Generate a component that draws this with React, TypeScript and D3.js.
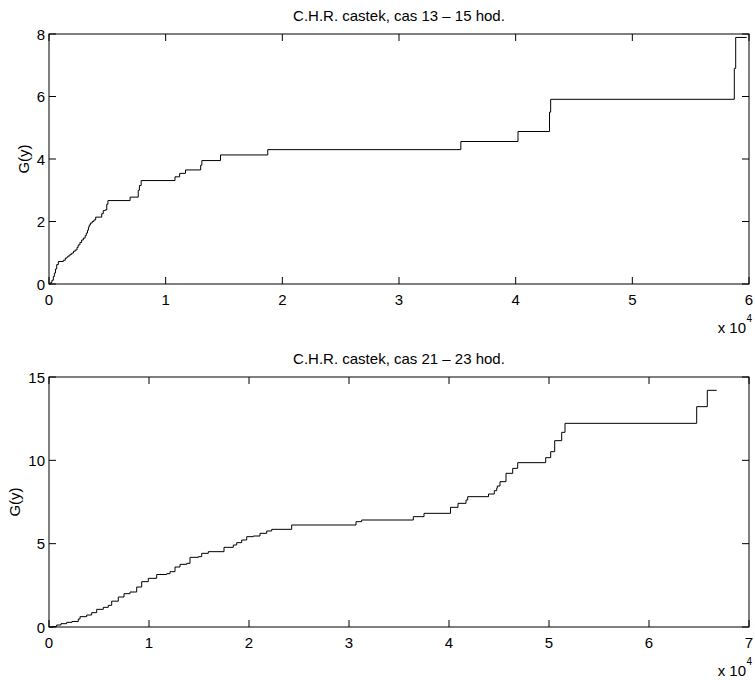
import React from "react";
import * as d3 from "d3";

// ---- data (x in raw units, y = G(y)) ----
const topX = [0, 150, 250, 370, 460, 560, 660, 800, 1230, 1400, 1550, 1650, 1800, 1950, 2100, 2250, 2400, 2500, 2650, 2800, 2950, 3100, 3200, 3300, 3380, 3450, 3550, 3700, 3850, 4000, 4520, 4650, 4800, 4950, 5050, 6950, 7650, 7750, 7900, 10800, 11200, 11700, 13000, 13100, 14700, 18750, 35300, 40200, 42900, 43000, 58740, 58860, 59800];
const topY = [0, 0.05, 0.12, 0.24, 0.35, 0.48, 0.62, 0.72, 0.76, 0.83, 0.87, 0.9, 0.95, 0.99, 1.05, 1.09, 1.17, 1.25, 1.33, 1.41, 1.47, 1.55, 1.63, 1.72, 1.82, 1.89, 1.95, 2.0, 2.05, 2.14, 2.25, 2.35, 2.37, 2.55, 2.67, 2.78, 3.0, 3.15, 3.31, 3.43, 3.54, 3.65, 3.8, 3.95, 4.13, 4.3, 4.56, 4.88, 5.5, 5.91, 6.9, 7.89, 7.89];

const botX = [0, 400, 770, 1200, 1770, 2300, 2930, 3100, 3770, 4270, 4770, 5430, 5930, 6270, 6930, 7500, 8100, 8770, 9270, 9930, 10770, 11770, 12100, 12600, 13100, 13770, 14100, 14930, 15270, 15930, 17500, 18430, 18770, 19270, 19770, 20430, 21100, 21770, 22270, 24270, 30700, 31270, 36430, 37500, 40150, 40900, 41700, 41870, 43950, 44530, 44770, 44830, 45100, 45700, 46370, 46870, 49670, 50170, 50570, 51270, 51600, 64770, 65830, 66770];
const botY = [0, 0.03, 0.12, 0.2, 0.28, 0.33, 0.48, 0.62, 0.72, 0.86, 1.06, 1.18, 1.3, 1.55, 1.8, 2.0, 2.1, 2.4, 2.72, 2.92, 3.15, 3.2, 3.32, 3.6, 3.76, 3.82, 4.18, 4.22, 4.42, 4.52, 4.78, 4.92, 5.06, 5.22, 5.42, 5.46, 5.62, 5.76, 5.86, 6.12, 6.32, 6.42, 6.62, 6.82, 7.18, 7.42, 7.62, 7.82, 7.98, 8.18, 8.33, 8.46, 8.72, 9.22, 9.52, 9.86, 10.16, 10.52, 11.18, 11.68, 12.22, 13.22, 14.2, 14.2];

const topTitle = "C.H.R. castek, cas 13 \u2013 15 hod.";
const botTitle = "C.H.R. castek, cas 21 \u2013 23 hod.";
const yLabel = "G(y)";
const topXTicks = [0, 1, 2, 3, 4, 5, 6];
const topYTicks = [0, 2, 4, 6, 8];
const botXTicks = [0, 1, 2, 3, 4, 5, 6, 7];
const botYTicks = [0, 5, 10, 15];

const FONT = "'Liberation Sans', Arial, Helvetica, sans-serif";
const FS = 15;

type PanelProps = {
  xs: number[]; ys: number[]; title: string;
  xMax: number; yMax: number; xTicks: number[]; yTicks: number[];
  top: number; bottom: number; ylabX: number;
};

function Panel({ xs, ys, title, xMax, yMax, xTicks, yTicks, top, bottom, ylabX }: PanelProps) {
  const left = 49, right = 749;
  const x = d3.scaleLinear().domain([0, xMax * 1e4]).range([left, right]);
  const y = d3.scaleLinear().domain([0, yMax]).range([bottom, top]);
  const pts: [number, number][] = xs.map((v, i) => [v, ys[i]]);
  const line = d3.line<[number, number]>().x(d => x(d[0])).y(d => y(d[1])).curve(d3.curveStepAfter);
  const tl = 7;
  return (
    <g>
      <text x={(left + right) / 2} y={top - 13.5} textAnchor="middle" fontFamily={FONT} fontSize={FS}>{title}</text>
      <rect x={left} y={top} width={right - left} height={bottom - top} fill="white" stroke="black" strokeWidth={1} />
      {xTicks.map(t => (
        <g key={"x" + t}>
          <line x1={x(t * 1e4)} x2={x(t * 1e4)} y1={bottom} y2={bottom - tl} stroke="black" />
          <line x1={x(t * 1e4)} x2={x(t * 1e4)} y1={top} y2={top + tl} stroke="black" />
          <text x={x(t * 1e4)} y={bottom + 21} textAnchor="middle" fontFamily={FONT} fontSize={FS}>{t}</text>
        </g>
      ))}
      {yTicks.map(t => (
        <g key={"y" + t}>
          <line x1={left} x2={left + tl} y1={y(t)} y2={y(t)} stroke="black" />
          <line x1={right} x2={right - tl} y1={y(t)} y2={y(t)} stroke="black" />
          <text x={left - 4} y={y(t) + 5.5} textAnchor="end" fontFamily={FONT} fontSize={FS}>{t}</text>
        </g>
      ))}
      <path d={line(pts) || ""} fill="none" stroke="black" strokeWidth={1} />
      <text transform={`translate(${ylabX},${(top + bottom) / 2}) rotate(-90)`} textAnchor="middle" fontFamily={FONT} fontSize={FS}>{yLabel}</text>
      <text x={746} y={bottom + 48.5} textAnchor="end" fontFamily={FONT} fontSize={FS}>x 10</text>
      <text x={746.5} y={bottom + 38} fontFamily={FONT} fontSize={10}>4</text>
    </g>
  );
}

export default function App() {
  return (
    <svg width={755} height={680} style={{ position: "absolute", left: 0, top: 0, background: "white" }}>
      <rect width={755} height={680} fill="white" />
      <Panel xs={topX} ys={topY} title={topTitle} xMax={6} yMax={8} xTicks={topXTicks} yTicks={topYTicks} top={34} bottom={284} ylabX={29} />
      <Panel xs={botX} ys={botY} title={botTitle} xMax={7} yMax={15} xTicks={botXTicks} yTicks={botYTicks} top={377} bottom={627} ylabX={20} />
    </svg>
  );
}
